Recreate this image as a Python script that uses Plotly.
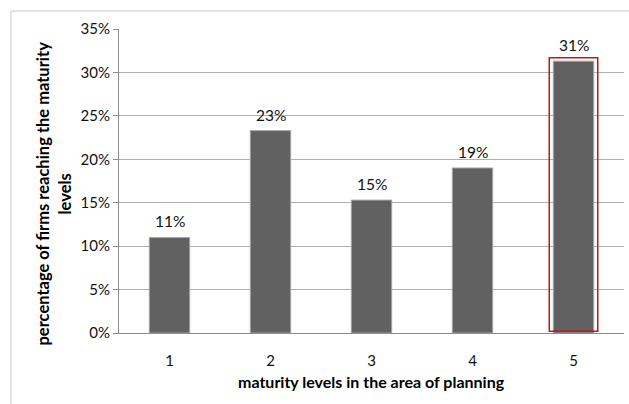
import plotly.graph_objects as go

categories = ["1", "2", "3", "4", "5"]
values = [0.110, 0.233, 0.153, 0.190, 0.313]
labels = ["11%", "23%", "15%", "19%", "31%"]
y_ticks = [0, 0.05, 0.10, 0.15, 0.20, 0.25, 0.30, 0.35]
y_tick_text = ["0%", "5%", "10%", "15%", "20%", "25%", "30%", "35%"]
x_title = "maturity levels in the area of planning"
y_title = "percentage of firms reaching the maturity<br>levels"

FONT = "Lato"

fig = go.Figure()
fig.add_trace(go.Bar(
    x=categories, y=values,
    marker=dict(color="#616161", line=dict(color="#a6a6a6", width=1)),
    width=0.4,
))

# data labels above bars (category index positions)
for i, (v, t) in enumerate(zip(values, labels)):
    fig.add_annotation(x=i, y=v, text=t, showarrow=False, xanchor="center",
                       yanchor="middle", yshift=16,
                       font=dict(family=FONT, size=15.5, color="#111111"))

# highlight box around the maximum bar
imax = values.index(max(values))
fig.add_shape(type="rect", xref="x", yref="y",
              x0=imax - 0.24, x1=imax + 0.24, y0=0.002, y1=values[imax] + 0.004,
              line=dict(color="#d01010", width=1.5), fillcolor="rgba(0,0,0,0)")

# outer chart frame
fig.add_shape(type="rect", xref="paper", yref="paper",
              x0=-0.2139, x1=1.5, y0=-0.5, y1=1.0592,
              line=dict(color="#c8c8c8", width=1), layer="below")

fig.add_annotation(text=y_title, xref="paper", yref="paper", x=-0.13, y=0.46,
                   textangle=-90, showarrow=False, xanchor="center", yanchor="middle",
                   font=dict(family=FONT, size=16.5, color="#000000", weight="bold"))
fig.add_annotation(text=x_title, xref="paper", yref="paper", x=0.5, y=-0.158,
                   showarrow=False, xanchor="center", yanchor="middle",
                   font=dict(family=FONT, size=16, color="#000000", weight="bold"))

fig.update_layout(
    width=629, height=404,
    margin=dict(l=119, r=5, t=29, b=71),
    paper_bgcolor="white", plot_bgcolor="white",
    showlegend=False, bargap=0.6,
    font=dict(family=FONT, size=15, color="#111111"),
    xaxis=dict(type="category", range=[-0.5, len(categories) - 0.5],
               showgrid=False, showline=True, linecolor="#8c8c8c",
               linewidth=1, ticks="", tickfont=dict(family=FONT, size=15), ticklabelstandoff=14),
    yaxis=dict(range=[0, 0.35], tickvals=y_ticks, ticktext=y_tick_text,
               showgrid=True, gridcolor="#b0b0b0", gridwidth=1,
               showline=True, linecolor="#8c8c8c", linewidth=1,
               ticks="outside", ticklen=5, tickcolor="#8c8c8c",
               tickfont=dict(family=FONT, size=15), zeroline=False),
)

fig.write_html("out.html")
